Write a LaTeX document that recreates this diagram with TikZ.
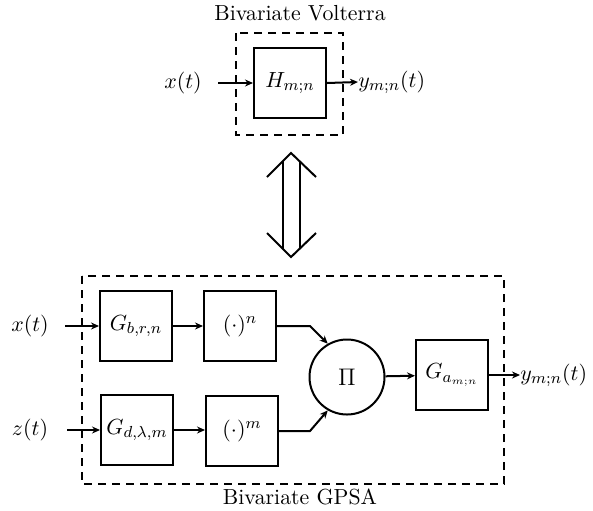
\documentclass[tikz,border=0pt]{standalone}
\usetikzlibrary{arrows.meta}
\begin{document}
\begin{tikzpicture}[x=0.5pt,y=-0.5pt,
  every node/.style={font=\fontsize{10.9}{12}\selectfont},
  blk/.style={draw,line width=1pt,minimum width=36pt,minimum height=35pt,inner sep=0pt},
  grp/.style={draw,line width=1pt,dashed,dash pattern=on 4pt off 3pt},
  arr/.style={line width=1pt,-{Stealth[length=4pt,width=3.5pt]}},
  ln/.style={line width=1pt}]
\useasboundingbox (0,0) rectangle (593,510);
% top
\node (ttl) at (300,13) {Bivariate Volterra};
\draw[grp] (236,33) rectangle (343,135);
\node[blk] (H) at (290,83) {$H_{m;n}$};
\node (xt1) at (183,83) {$x(t)$};
\coordinate (xs1) at (218,83);
\node[anchor=west,inner sep=0pt] (y1) at (358,82) {$y_{m;n}(t)$};
\draw[arr] (xs1) -- (H.west);
\draw[arr] (H.east) -- (y1.west);
% double arrow
\coordinate (dt) at (291,153);
\coordinate (db) at (291,257);
\draw[ln,line join=miter] (267,177) -- (dt) -- (316,177);
\draw[ln,line join=miter] (267,233) -- (db) -- (316,233);
\draw[ln] (283,161) -- (283,249);
\draw[ln] (300,161) -- (300,249);
% bottom
\draw[grp] (82,276) rectangle (504,484);
\node (ttl2) at (300,497) {Bivariate GPSA};
\node[blk] (Gb) at (136,326) {$G_{b,r,n}$};
\node[blk] (Pn) at (240,326) {$(\cdot)^{n}$};
\node[blk] (Gd) at (137,430) {$G_{d,\lambda,m}$};
\node[blk] (Pm) at (242,431) {$(\cdot)^{m}$};
\node[draw,circle,line width=1pt,minimum size=37.5pt,inner sep=0pt] (Pi) at (347,377) {\large$\Pi$};
\node[blk] (Ga) at (452,375) {$G_{a_{m;n}}$};
\node (xt2) at (30,326) {$x(t)$};
\node (zt2) at (30,430) {$z(t)$};
\coordinate (xs2) at (65,326);
\coordinate (zs2) at (67,430);
\node[anchor=west,inner sep=0pt] (y2) at (520,375) {$y_{m;n}(t)$};
\draw[arr] (xs2) -- (Gb.west);
\draw[arr] (zs2) -- (Gd.west);
\draw[arr] (Gb) -- (Pn);
\draw[arr] (Gd) -- (Gd-|Pm.west);
\draw[arr] (Pn.east) -- (310,326) -- (Pi.120);
\draw[arr] (Pm.east) -- (310,431) -- (Pi.240);
\draw[arr] (Pi) -- (Ga);
\draw[arr] (Ga.east) -- (y2.west);
\end{tikzpicture}
\end{document}
